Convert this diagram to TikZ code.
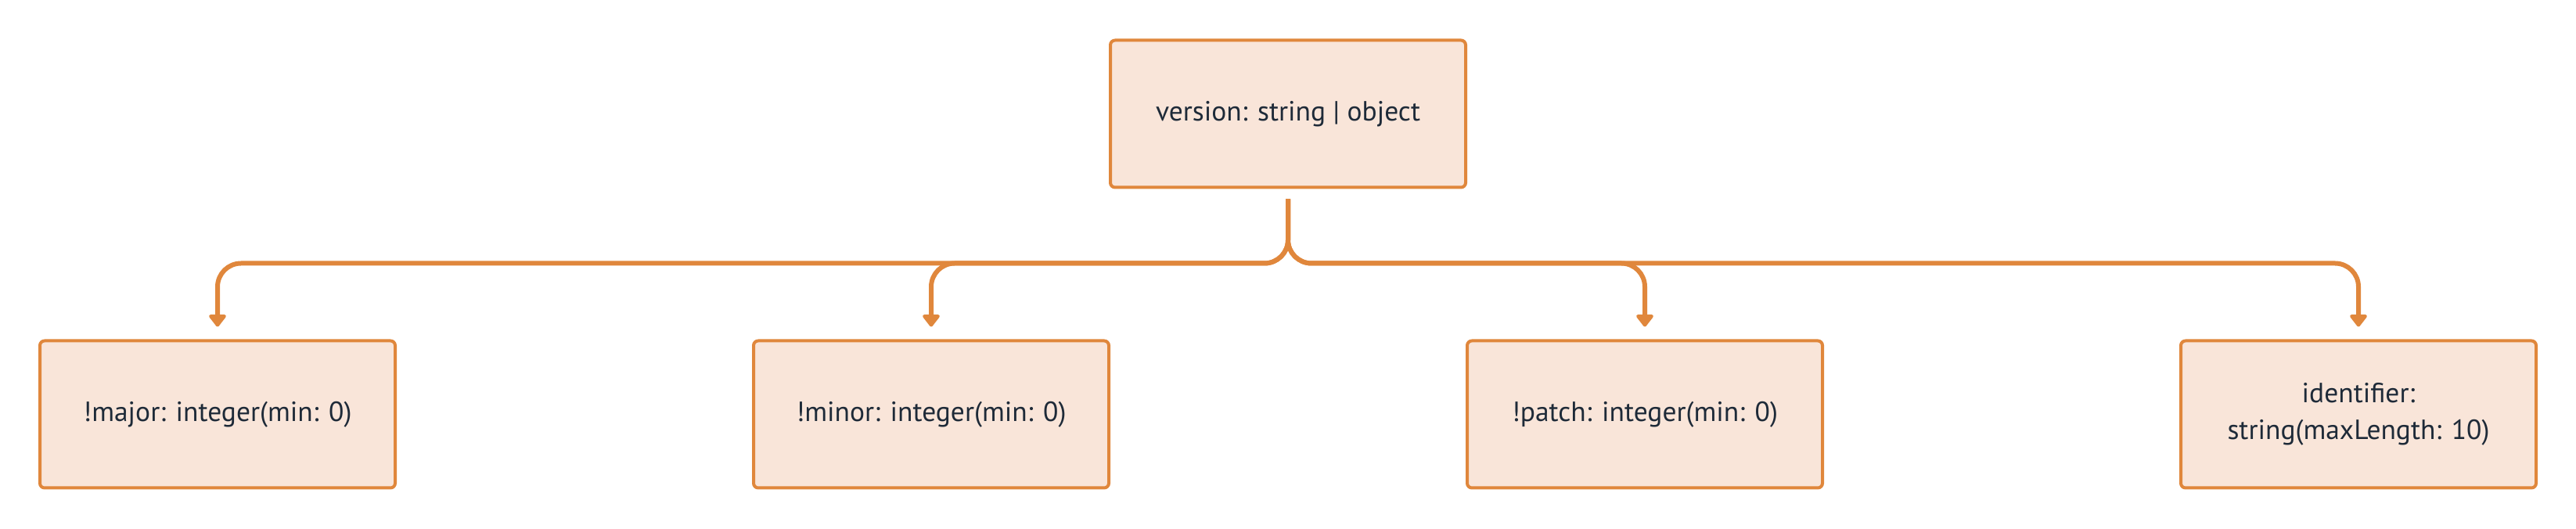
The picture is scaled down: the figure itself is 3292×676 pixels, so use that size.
\documentclass[tikz,border=0pt]{standalone}
\usepackage{fontspec}
\setmainfont{PT Sans}
\usetikzlibrary{arrows.meta}
\definecolor{boxline}{HTML}{E0873C}
\definecolor{boxfill}{HTML}{F9E5D9}
\definecolor{boxtext}{HTML}{1E2A38}

\begin{document}
\begin{tikzpicture}[x=1pt,y=1pt,
	field/.style={draw=boxline,fill=boxfill,line width=4pt,rounded corners=6pt,minimum width=454pt,minimum height=188pt,inner sep=0pt,text=boxtext,align=center,font=\fontsize{35.5}{47}\selectfont},
	link/.style={draw=boxline,line width=6pt,rounded corners=30pt,-{Triangle[width=25pt,length=17pt,round]}}]
		\useasboundingbox (0,0) rectangle (3292,676);
		\node[field] (Version) at (1646,530.5) {version: string | object};
		\node[field] (Major) at (278,146.5) {!major: integer(min: 0)};
		\node[field] (Minor) at (1190,146.5) {!minor: integer(min: 0)};
		\node[field] (Patch) at (2102,146.5) {!patch: integer(min: 0)};
		\node[field] (Ident) at (3014,146.5) {identifier:\\string(maxLength: 10)};
		\foreach \n in {Major,Minor,Patch,Ident}
			\draw[link] ([yshift=-13pt]Version.south) -- ++(0,-82) -| ([yshift=16pt]\n.north);
	\end{tikzpicture}
\end{document}
